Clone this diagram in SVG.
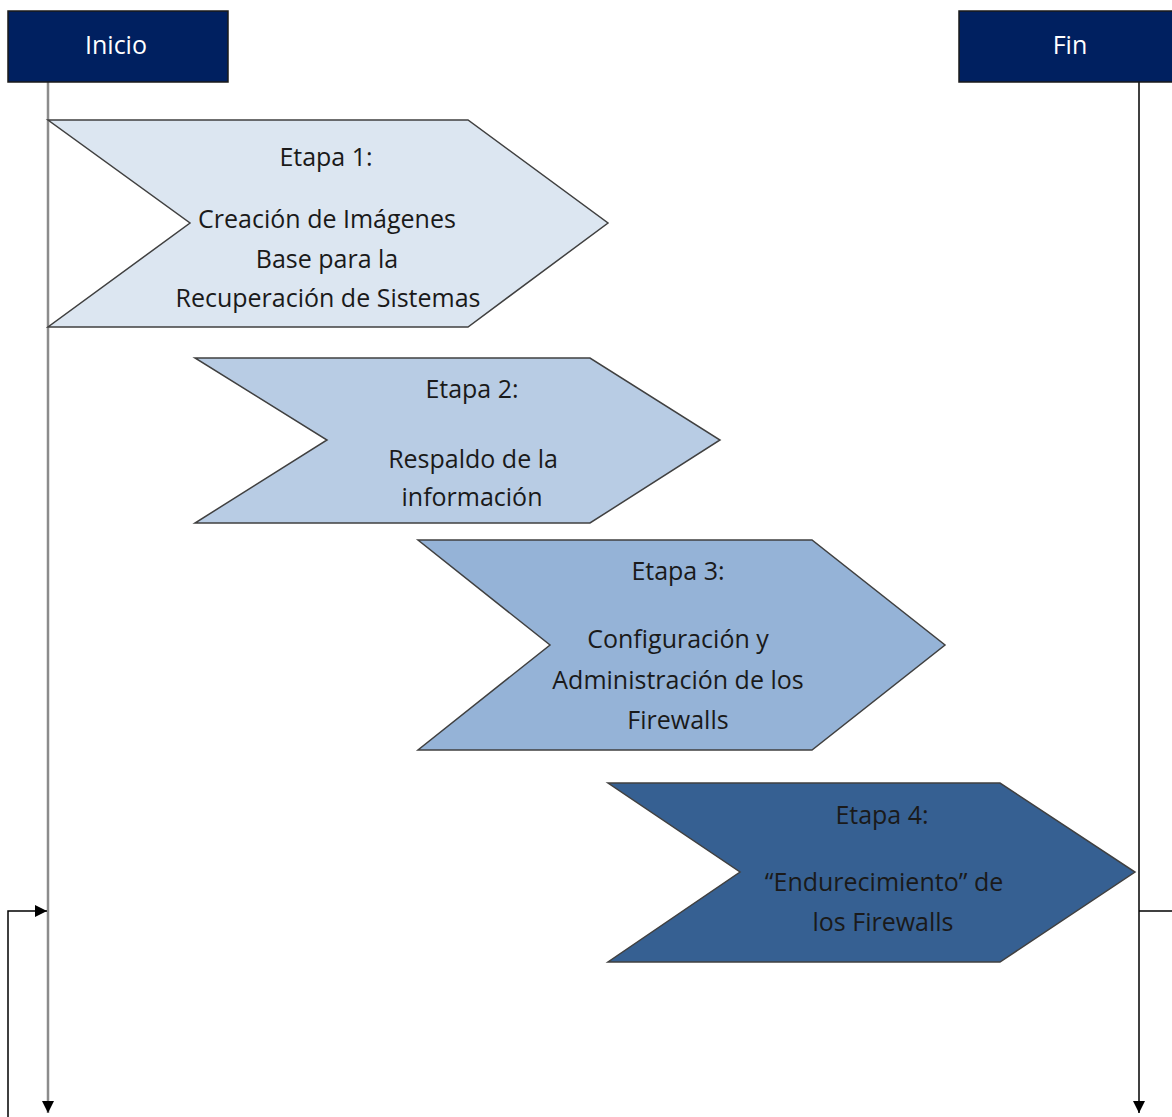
<svg xmlns="http://www.w3.org/2000/svg" width="1172" height="1117" viewBox="0 0 1172 1117">
<style>
.hdr{fill:#002060;stroke:#1a1a1a;stroke-width:1.5}
.hdrt{font-family:"Open Sans","Liberation Sans",sans-serif;font-size:25px;fill:#ffffff;text-anchor:middle}
.chev{stroke:#404040;stroke-width:1.5}
.t{font-family:"Open Sans","Liberation Sans",sans-serif;font-size:25px;fill:#1a1a1a;text-anchor:middle}
.ln{fill:none;stroke:#000;stroke-width:1.5}
</style>
<defs>
<marker id="ah" viewBox="0 0 10 10" refX="10" refY="5" markerWidth="12" markerHeight="12" markerUnits="userSpaceOnUse" orient="auto">
<path d="M0,0 L10,5 L0,10 z" fill="#000"/>
</marker>
</defs>
<g id="connectors">
<line x1="48" y1="82" x2="48" y2="1113" stroke="#8c8c8c" stroke-width="2.5" marker-end="url(#ah)"/>
<line x1="1139" y1="82" x2="1139" y2="1113" class="ln" marker-end="url(#ah)"/>
<line x1="1139" y1="911" x2="1172" y2="911" class="ln"/>
<polyline points="8,1117 8,911 47,911" class="ln" marker-end="url(#ah)"/>
</g>
<g id="inicio">
<rect x="8" y="11" width="220" height="71" class="hdr"/>
<text x="116" y="54" class="hdrt">Inicio</text>
</g>
<g id="fin">
<rect x="959" y="11" width="220" height="71" class="hdr"/>
<text x="1070" y="54" class="hdrt">Fin</text>
</g>
<g id="etapa1">
<polygon points="48,120 468,120 608,223 468,327 48,327 190,223" fill="#DCE6F1" class="chev"/>
<text class="t"><tspan x="326" y="166">Etapa 1:</tspan><tspan x="327" y="228">Creación de Imágenes</tspan><tspan x="327" y="268">Base para la</tspan><tspan x="328" y="307">Recuperación de Sistemas</tspan></text>
</g>
<g id="etapa2">
<polygon points="195,358 590,358 720,440 590,523 195,523 327,440" fill="#B8CCE4" class="chev"/>
<text class="t"><tspan x="472" y="398">Etapa 2:</tspan><tspan x="473" y="468">Respaldo de la</tspan><tspan x="472" y="506">información</tspan></text>
</g>
<g id="etapa3">
<polygon points="418,540 812,540 945,645 812,750 418,750 550,645" fill="#95B3D7" class="chev"/>
<text class="t"><tspan x="678" y="580">Etapa 3:</tspan><tspan x="678" y="648">Configuración y</tspan><tspan x="678" y="689">Administración de los</tspan><tspan x="678" y="729">Firewalls</tspan></text>
</g>
<g id="etapa4">
<polygon points="608,783 1000,783 1135,872 1000,962 608,962 740,872" fill="#366092" class="chev"/>
<text class="t"><tspan x="882" y="824">Etapa 4:</tspan><tspan x="884" y="891">“Endurecimiento” de</tspan><tspan x="883" y="931">los Firewalls</tspan></text>
</g>
</svg>
